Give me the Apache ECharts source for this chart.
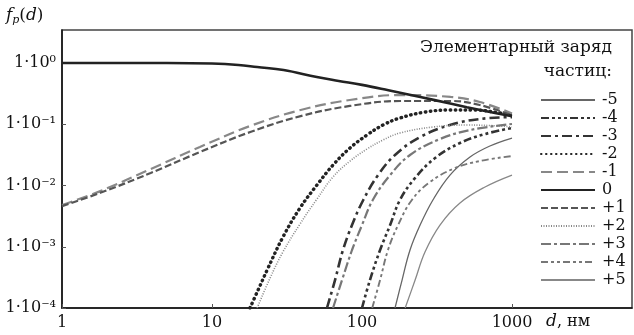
<!DOCTYPE html>
<html><head><meta charset="utf-8">
<script src="https://cdn.jsdelivr.net/npm/echarts@6/dist/echarts.min.js"></script>
<style>html,body{margin:0;padding:0;background:#fff}#c{width:634px;height:335px}</style>
</head><body><div id="c"></div>
<script>
// ---- data (particle diameter d, nm ; charge fraction f) ----
const seriesNames = ['-5','-4','-3','-2','-1','0','+1','+2','+3','+4','+5'];
const d_m5 = [166,185,209,244,297,386,525,713,1000];
const f_m5 = [1e-4,2.86e-4,8.85e-4,2.26e-3,5.8e-3,0.0148,0.0292,0.0442,0.0596];
const d_m4 = [100,113,132,154,179,226,307,450,661,1000];
const f_m4 = [1e-4,2.86e-4,8.85e-4,2.26e-3,5.8e-3,0.0133,0.0281,0.0494,0.0693,0.0869];
const d_m3 = [58.4,66.1,74.7,85.8,102,128,166,244,386,612,1000];
const f_m3 = [1e-4,2.86e-4,8.85e-4,2.26e-3,5.8e-3,0.0148,0.0315,0.0619,0.0972,0.122,0.131];
const d_m2 = [17.9,20.3,23.3,29.7,38.6,50.1,64.1,83.2,108,138,179,263,386,567,832,1000];
const f_m2 = [1e-4,1.97e-4,4.17e-4,1.44e-3,4.29e-3,0.0102,0.0216,0.041,0.0668,0.0972,0.1265,0.158,0.171,0.171,0.153,0.142];
const d_m1 = [1,1.8,3.9,8.3,18,39,83,180,390,610,1000];
const f_m1 = [0.0048,0.0081,0.0186,0.0425,0.094,0.171,0.249,0.30,0.279,0.231,0.15];
const d_0  = [1,5,10,15,20,30,50,70,100,150,200,300,500,700,1000];
const f_0  = [1.0,1.0,0.98,0.93,0.86,0.77,0.59,0.51,0.44,0.36,0.31,0.25,0.19,0.16,0.135];
const d_p1 = [1,1.8,3.9,8.3,18,39,83,180,390,610,1000];
const f_p1 = [0.0046,0.0076,0.016,0.0352,0.0747,0.136,0.199,0.24,0.24,0.206,0.14];
const d_p2 = [20,24.4,29.7,38.6,50.1,64.1,83.2,108,138,179,297,501,832,1000];
const f_p2 = [1e-4,3.09e-4,8.21e-4,2.35e-3,6.02e-3,0.0138,0.0251,0.0394,0.0553,0.072,0.0902,0.0972,0.0936,0.0902];
const d_p3 = [64.1,73.6,85.8,100,118,154,209,331,525,1000];
const f_p3 = [1e-4,2.86e-4,8.85e-4,2.26e-3,5.8e-3,0.0148,0.0315,0.0574,0.0805,0.101];
const d_p4 = [117,132,149,174,215,284,417,612,1000];
const f_p4 = [1e-4,2.86e-4,8.85e-4,2.26e-3,5.8e-3,0.0114,0.0193,0.0251,0.0303];
const d_p5 = [194,226,263,331,450,661,1000];
const f_p5 = [1e-4,2.86e-4,8.21e-4,2.26e-3,5.18e-3,9.45e-3,0.0148];
const yTickLabels = {'0':'1·10⁰','-1':'1·10⁻¹','-2':'1·10⁻²','-3':'1·10⁻³','-4':'1·10⁻⁴'};
const xTickLabels = {'0':'1','1':'10','2':'100','3':'1000'};
const legendTitle = ['Элементарный заряд','частиц:'];

// ---- styles ----
const FONT = '"DejaVu Serif", "Liberation Serif", serif';
const styles = {
  '-5': {color:'#666', width:1.3, type:'solid'},
  '-4': {color:'#333', width:2.6, type:[8,3,3,3,3,3,3,3]},
  '-3': {color:'#333', width:2.6, type:[10,4,3,4]},
  '-2': {color:'#222', width:3.4, type:[0.5,4.5], cap:'round'},
  '-1': {color:'#888', width:2.2, type:[11,5]},
  '0':  {color:'#222', width:2.6, type:'solid'},
  '+1': {color:'#555', width:2.2, type:[7,3]},
  '+2': {color:'#888', width:1.6, type:[1,1.5]},
  '+3': {color:'#777', width:2.2, type:[10,3,3,3]},
  '+4': {color:'#777', width:1.9, type:[7,3,3,3,3,3]},
  '+5': {color:'#888', width:1.3, type:'solid'}
};
const dataSets = {
  '-5':[d_m5,f_m5],'-4':[d_m4,f_m4],'-3':[d_m3,f_m3],'-2':[d_m2,f_m2],'-1':[d_m1,f_m1],
  '0':[d_0,f_0],'+1':[d_p1,f_p1],'+2':[d_p2,f_p2],'+3':[d_p3,f_p3],'+4':[d_p4,f_p4],'+5':[d_p5,f_p5]
};
const zip = (a,b)=>a.map((v,i)=>[v,b[i]]);

const series = seriesNames.map(n=>({
  name:n, type:'line', symbol:'none', showSymbol:false,
  smooth:0.4,
  data: zip(dataSets[n][0], dataSets[n][1]),
  lineStyle: Object.assign({}, styles[n]),
  itemStyle:{color:styles[n].color},
  z: n==='0'?5:3
}));

const chart = echarts.init(document.getElementById('c'), null, {renderer:'canvas'});
chart.setOption({
  animation:false,
  backgroundColor:'#fff',
  grid:{left:62, right:2, top:30, bottom:27, show:true, borderColor:'#444', borderWidth:1.5},
  xAxis:{type:'log', logBase:10, min:1, max:6310,
    axisLine:{show:true, lineStyle:{color:'#111', width:1.5}},
    axisTick:{show:true, inside:true, length:4, lineStyle:{color:'#555'}},
    minorTick:{show:false}, splitLine:{show:false},
    axisLabel:{showMaxLabel:false, margin:7, color:'#111', fontFamily:FONT, fontSize:16,
      formatter:v=>{const e=Math.round(Math.log10(v)); return xTickLabels[String(e)]||'';}}
  },
  yAxis:{type:'log', logBase:10, min:1e-4, max:3.46,
    axisLine:{show:true, lineStyle:{color:'#111', width:1.5}},
    axisTick:{show:true, inside:true, length:4, lineStyle:{color:'#555'}},
    splitLine:{show:false},
    axisLabel:{showMaxLabel:false, margin:6, color:'#111', fontFamily:FONT, fontSize:16,
      formatter:v=>{const e=Math.round(Math.log10(v)); return yTickLabels[String(e)]||'';}}
  },
  legend:{orient:'vertical', left:540, top:92, itemWidth:54, itemHeight:14, itemGap:2,
    padding:0, data:seriesNames, itemStyle:{opacity:0},
    textStyle:{fontFamily:FONT, fontSize:16, color:'#111', lineHeight:16, padding:[0,0,0,2]}
  },
  graphic:[
    {type:'text', x:612, y:48, style:{text:legendTitle[0], font:'17px '+FONT, fill:'#111', align:'right', verticalAlign:'middle'}},
    {type:'text', x:612, y:72, style:{text:legendTitle[1], font:'17px '+FONT, fill:'#111', align:'right', verticalAlign:'middle'}},
    {type:'text', x:6, y:16, style:{text:'{i|f}{s|p}{n|(}{i|d}{n|)}', verticalAlign:'middle', fill:'#111',
      rich:{i:{fontFamily:FONT, fontStyle:'italic', fontSize:17, lineHeight:20},
            n:{fontFamily:FONT, fontSize:17, lineHeight:20},
            s:{fontFamily:FONT, fontStyle:'italic', fontSize:11, lineHeight:10, verticalAlign:'bottom'}}}},
    {type:'text', x:546, y:322, style:{text:'{i|d}{n|, нм}', verticalAlign:'middle', fill:'#111',
      rich:{i:{fontFamily:FONT, fontStyle:'italic', fontSize:17, lineHeight:20},
            n:{fontFamily:FONT, fontSize:16, lineHeight:20}}}}
  ],
  series:series
});
</script></body></html>
